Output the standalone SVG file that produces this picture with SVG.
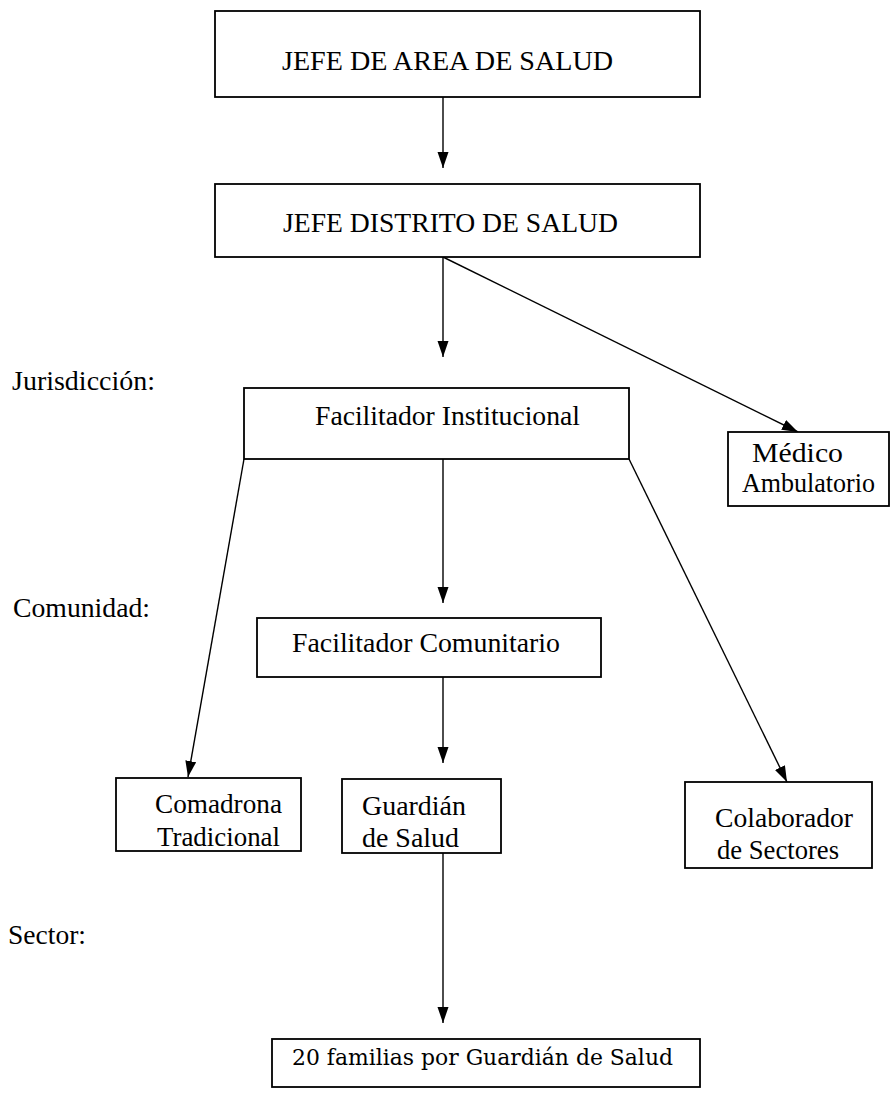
<svg xmlns="http://www.w3.org/2000/svg" width="892" height="1097" viewBox="0 0 892 1097">
<style>
.box{fill:#fff;stroke:#000;stroke-width:1.8}
.t{font-family:"Liberation Serif","Times New Roman",serif;font-size:27px;fill:#000}
.b{font-family:"DejaVu Serif","Liberation Serif",serif;font-size:23px;fill:#000}
.c{stroke:#000;stroke-width:1.4;fill:none;marker-end:url(#ah)}
</style>
<defs>
<marker id="ah" markerUnits="userSpaceOnUse" markerWidth="16" markerHeight="12" refX="16" refY="5.5" orient="auto">
<path d="M0,0 L16,5.5 L0,11 z" fill="#000"/>
</marker>
</defs>
<rect width="892" height="1097" fill="#fff"/>
<g id="connectors">
<line class="c" x1="443" y1="97" x2="443" y2="168"/>
<line class="c" x1="443" y1="257" x2="443" y2="357"/>
<line class="c" x1="443" y1="257" x2="798" y2="432"/>
<line class="c" x1="443" y1="459" x2="443" y2="603"/>
<line class="c" x1="244" y1="459" x2="188" y2="777"/>
<line class="c" x1="629" y1="459" x2="787" y2="782"/>
<line class="c" x1="443" y1="677" x2="443" y2="763"/>
<line class="c" x1="443" y1="853" x2="443" y2="1023"/>
</g>
<g id="labels">
<text class="t" x="12" y="390" textLength="143" lengthAdjust="spacingAndGlyphs">Jurisdicción:</text>
<text class="t" x="13" y="617" textLength="137" lengthAdjust="spacingAndGlyphs">Comunidad:</text>
<text class="t" x="8" y="944" textLength="78" lengthAdjust="spacingAndGlyphs">Sector:</text>
</g>
<g id="jefe-area">
<rect class="box" x="215" y="11" width="485" height="86"/>
<text class="t" x="282" y="70" textLength="331" lengthAdjust="spacingAndGlyphs">JEFE DE AREA DE SALUD</text>
</g>
<g id="jefe-distrito">
<rect class="box" x="215" y="184" width="485" height="73"/>
<text class="t" x="283" y="232" textLength="335" lengthAdjust="spacingAndGlyphs">JEFE DISTRITO DE SALUD</text>
</g>
<g id="facilitador-institucional">
<rect class="box" x="244" y="388" width="385" height="71"/>
<text class="t" x="315" y="425" textLength="265" lengthAdjust="spacingAndGlyphs">Facilitador Institucional</text>
</g>
<g id="medico-ambulatorio">
<rect class="box" x="728" y="432" width="161" height="74"/>
<text class="t" x="752" y="462" textLength="91" lengthAdjust="spacingAndGlyphs">Médico</text>
<text class="t" x="742" y="492" textLength="133" lengthAdjust="spacingAndGlyphs">Ambulatorio</text>
</g>
<g id="facilitador-comunitario">
<rect class="box" x="257" y="618" width="344" height="59"/>
<text class="t" x="292" y="652" textLength="268" lengthAdjust="spacingAndGlyphs">Facilitador Comunitario</text>
</g>
<g id="comadrona">
<rect class="box" x="116" y="778" width="185" height="73"/>
<text class="t" x="155" y="813" textLength="127" lengthAdjust="spacingAndGlyphs">Comadrona</text>
<text class="t" x="157" y="846" textLength="123" lengthAdjust="spacingAndGlyphs">Tradicional</text>
</g>
<g id="guardian">
<rect class="box" x="342" y="779" width="159" height="74"/>
<text class="t" x="362" y="815" textLength="104" lengthAdjust="spacingAndGlyphs">Guardián</text>
<text class="t" x="362" y="847" textLength="97" lengthAdjust="spacingAndGlyphs">de Salud</text>
</g>
<g id="colaborador">
<rect class="box" x="685" y="782" width="187" height="86"/>
<text class="t" x="715" y="827" textLength="138" lengthAdjust="spacingAndGlyphs">Colaborador</text>
<text class="t" x="717" y="859" textLength="122" lengthAdjust="spacingAndGlyphs">de Sectores</text>
</g>
<g id="familias">
<rect class="box" x="272" y="1039" width="428" height="48"/>
<text class="b" x="292" y="1065" textLength="381" lengthAdjust="spacingAndGlyphs">20 familias por Guardián de Salud</text>
</g>
</svg>
